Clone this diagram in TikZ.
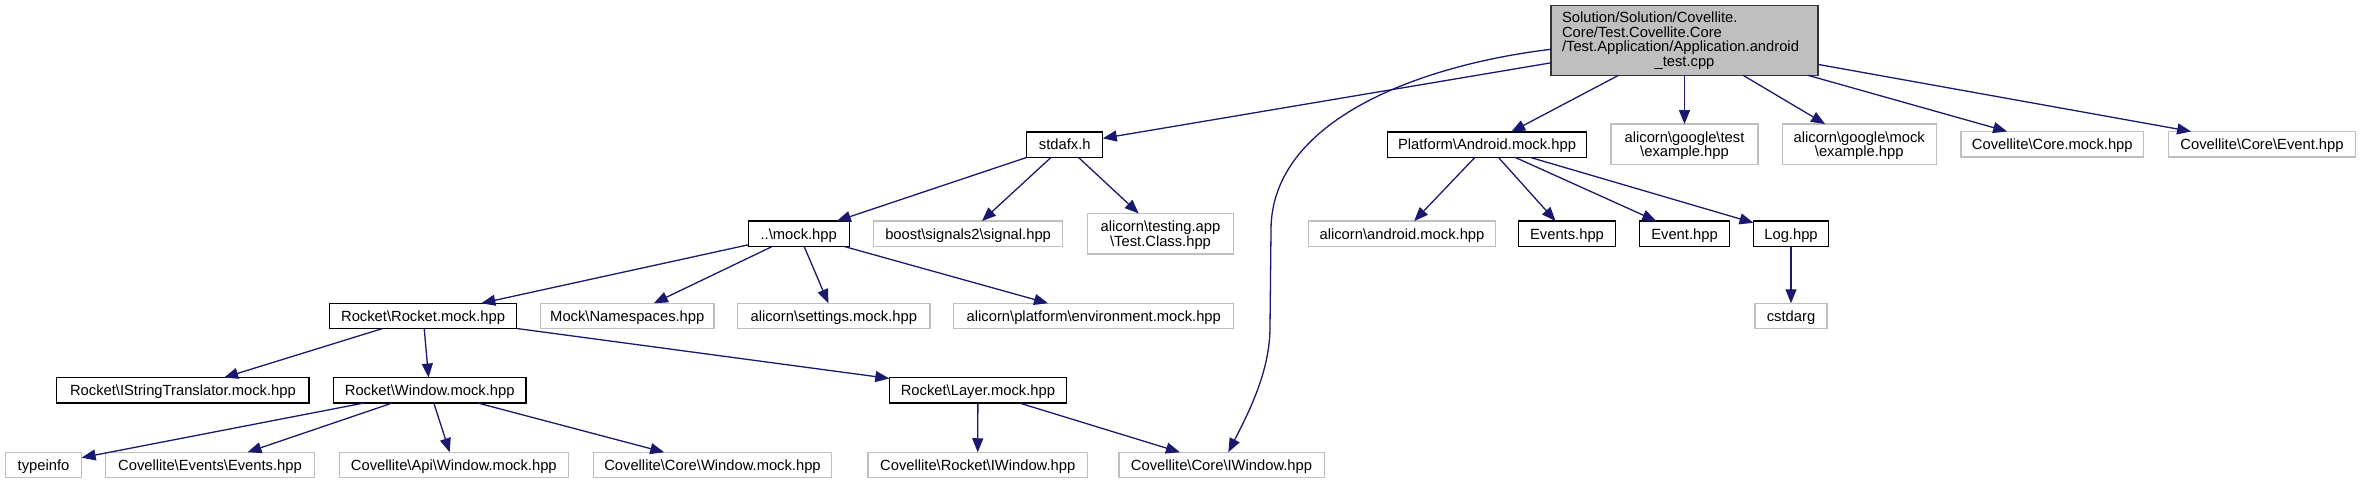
\documentclass[tikz,border=0pt]{standalone}
\usepackage{fontspec}
\setmainfont{Liberation Sans}
\usetikzlibrary{arrows.meta}
\definecolor{navy}{HTML}{191970}
\definecolor{graybd}{HTML}{BFBFBF}
\definecolor{rootfill}{HTML}{BFBFBF}
\newcommand{\bsl}{\textbackslash}
\begin{document}
\begin{tikzpicture}[x=1pt,y=-1pt,
  every node/.style={font=\fontsize{14.75pt}{14.5pt}\selectfont, inner sep=0pt, outer sep=0pt, line width=1.3pt},
  box/.style={minimum height=25.5pt, text height=10.5pt, text depth=0pt},
  doc/.style={box, draw=black, fill=white},
  undoc/.style={box, draw=graybd, fill=white},
  twoline/.style={minimum height=40.5pt, align=center, text height=26pt, text depth=1pt},
  edge/.style={draw=navy, line width=1.3pt, -{Triangle[length=14pt,width=11pt]}}]
\useasboundingbox (0,0) rectangle (2361,484);
% nodes
\node[draw=black!80, fill=rootfill, minimum width=267pt, minimum height=69.6pt, text width=245pt, align=left] (root) at (1684.5,40.5)
  {Solution/Solution/Covellite.\\Core/Test.Covellite.Core\\/Test.Application/Application.android\\\hbox to\hsize{\hfil\_test.cpp\hfil}};
\node[doc, minimum width=76pt] (stdafx) at (1064.8,144.7) {stdafx.h};
\node[doc, minimum width=199pt] (platform) at (1487,144.7) {Platform\bsl Android.mock.hpp};
\node[undoc, twoline, minimum width=147pt] (gtest) at (1684.5,144.3) {alicorn\bsl google\bsl test\\\bsl example.hpp};
\node[undoc, twoline, minimum width=154pt] (gmock) at (1859.2,144.3) {alicorn\bsl google\bsl mock\\\bsl example.hpp};
\node[undoc, minimum width=182.5pt] (coremock) at (2052.3,144.2) {Covellite\bsl Core.mock.hpp};
\node[undoc, minimum width=187pt] (coreevent) at (2262,144.2) {Covellite\bsl Core\bsl Event.hpp};
\node[doc, minimum width=101pt] (mock) at (798.7,233.8) {..\bsl mock.hpp};
\node[undoc, minimum width=189.4pt] (boost) at (968.1,233.8) {boost\bsl signals2\bsl signal.hpp};
\node[undoc, twoline, minimum width=146.5pt] (testclass) at (1160.5,233.7) {alicorn\bsl testing.app\\\bsl Test.Class.hpp};
\node[undoc, minimum width=187pt] (andmock) at (1402,233.8) {alicorn\bsl android.mock.hpp};
\node[doc, minimum width=96.5pt] (events) at (1567,233.8) {Events.hpp};
\node[doc, minimum width=90.3pt] (event) at (1684.5,233.8) {Event.hpp};
\node[doc, minimum width=75pt] (logh) at (1791,233.8) {Log.hpp};
\node[doc, minimum width=187pt] (rocket) at (423.1,316) {Rocket\bsl Rocket.mock.hpp};
\node[undoc, minimum width=173.5pt] (namespaces) at (627.3,316) {Mock\bsl Namespaces.hpp};
\node[undoc, minimum width=192.5pt] (settings) at (833.8,316) {alicorn\bsl settings.mock.hpp};
\node[undoc, minimum width=280pt] (environment) at (1093.8,316) {alicorn\bsl platform\bsl environment.mock.hpp};
\node[undoc, minimum width=72pt] (cstdarg) at (1791,316) {cstdarg};
\node[doc, minimum width=252.3pt] (istr) at (182.9,390.3) {Rocket\bsl IStringTranslator.mock.hpp};
\node[doc, minimum width=192.4pt] (winmock) at (429.7,390.3) {Rocket\bsl Window.mock.hpp};
\node[doc, minimum width=177.2pt] (layer) at (977.9,390.3) {Rocket\bsl Layer.mock.hpp};
\node[undoc, minimum width=76.3pt] (typeinfo) at (43.5,465) {typeinfo};
\node[undoc, minimum width=209.3pt] (evevents) at (210,465) {Covellite\bsl Events\bsl Events.hpp};
\node[undoc, minimum width=229pt] (apiwin) at (453.8,465) {Covellite\bsl Api\bsl Window.mock.hpp};
\node[undoc, minimum width=238.4pt] (corewin) at (712.5,465) {Covellite\bsl Core\bsl Window.mock.hpp};
\node[undoc, minimum width=219.6pt] (rociwin) at (977.7,465) {Covellite\bsl Rocket\bsl IWindow.hpp};
\node[undoc, minimum width=205.3pt] (coreiwin) at (1221.5,465) {Covellite\bsl Core\bsl IWindow.hpp};
% edges
\draw[edge] (root) -- (stdafx);
\draw[edge] ([yshift=-8.8pt]root.west) .. controls (1420,65) and (1271,120) .. (1271,230)
  -- (1270,327) .. controls (1270,370) and (1250,410) .. ([xshift=6.8pt]coreiwin.north);
\draw[edge] (root) -- (platform);
\draw[edge] (root) -- (gtest);
\draw[edge] (root) -- (gmock);
\draw[edge] (root) -- (coremock);
\draw[edge] (root) -- (coreevent);
\draw[edge] (stdafx) -- (mock);
\draw[edge] (stdafx) -- (boost);
\draw[edge] (stdafx) -- (testclass);
\draw[edge] (platform) -- (andmock);
\draw[edge] (platform) -- (events);
\draw[edge] (platform) -- (event);
\draw[edge] (platform) -- (logh);
\draw[edge] (logh) -- (cstdarg);
\draw[edge] (mock) -- (rocket);
\draw[edge] (mock) -- (namespaces);
\draw[edge] (mock) -- (settings);
\draw[edge] (mock) -- (environment);
\draw[edge] (rocket) -- (istr);
\draw[edge] (rocket) -- (winmock);
\draw[edge] (rocket) -- (layer);
\draw[edge] (winmock) -- (typeinfo);
\draw[edge] (winmock) -- (evevents);
\draw[edge] (winmock) -- (apiwin);
\draw[edge] (winmock) -- (corewin);
\draw[edge] (layer) -- (rociwin);
\draw[edge] (layer) -- (coreiwin);
\end{tikzpicture}
\end{document}
